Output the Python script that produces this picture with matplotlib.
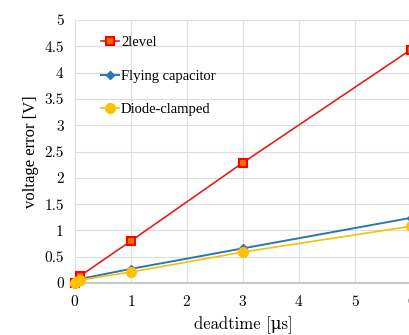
import matplotlib.pyplot as plt

# data
x_2level = [0, 0.1, 1, 3, 6]
y_2level = [0, 0.14, 0.8, 2.29, 4.44]
x_flying = [0, 0.05, 0.1, 1, 3, 6]
y_flying = [0, 0.04, 0.08, 0.27, 0.66, 1.24]
x_diode = [0, 0.05, 0.1, 1, 3, 6]
y_diode = [0, 0.03, 0.06, 0.21, 0.59, 1.08]

plt.rcParams['axes.formatter.use_mathtext'] = True

fig = plt.figure(figsize=(4.09, 3.35), dpi=100)
ax = fig.add_axes([0.183, 0.155, 0.822, 0.785])

ax.plot(x_2level, y_2level, color='#E3201B', lw=1.2, marker='s', ms=6,
        mfc='#FF6A00', mec='#FF0000', mew=1.5, label='2level', zorder=3, clip_on=False)
ax.plot(x_flying, y_flying, color='#2E75B6', lw=1.4, marker='D', ms=4,
        mfc='#2E75B6', mec='#2E75B6', label='Flying capacitor', zorder=4, clip_on=False)
ax.plot(x_diode, y_diode, color='#F2C200', lw=1.2, marker='o', ms=7,
        mfc='#FFC000', mec='#FFC000', label='Diode-clamped', zorder=5, clip_on=False)

ax.set_xlim(0, 6)
ax.set_ylim(0, 5)
ax.set_xticks(range(0, 7))
ax.set_yticks([0, 0.5, 1, 1.5, 2, 2.5, 3, 3.5, 4, 4.5, 5])
ax.set_yticklabels(['0', '0.5', '1', '1.5', '2', '2.5', '3', '3.5', '4', '4.5', '5'])
ax.grid(True, color='#DDDDDD', lw=0.8)
ax.set_axisbelow(True)
for s in ['top', 'right', 'left']:
    ax.spines[s].set_visible(False)
ax.spines['bottom'].set_color('#C8C8C8')
ax.spines['bottom'].set_linewidth(1.5)
ax.tick_params(length=0, labelsize=11, pad=8)
for lab in ax.get_xticklabels() + ax.get_yticklabels():
    lab.set_family('cmr10')

ax.set_xlabel('deadtime [μs]', fontsize=12, family=['cmr10', 'DejaVu Serif'], labelpad=5)
ax.set_ylabel('voltage error [V]', fontsize=12, family='Liberation Serif', labelpad=4)

ax.legend(loc='upper left', bbox_to_anchor=(0.04, 0.99), frameon=False,
          prop={'family': 'Liberation Serif', 'size': 10.5},
          handlelength=1.2, handletextpad=0.15, labelspacing=1.4)

fig.savefig('out.png', dpi=100)
